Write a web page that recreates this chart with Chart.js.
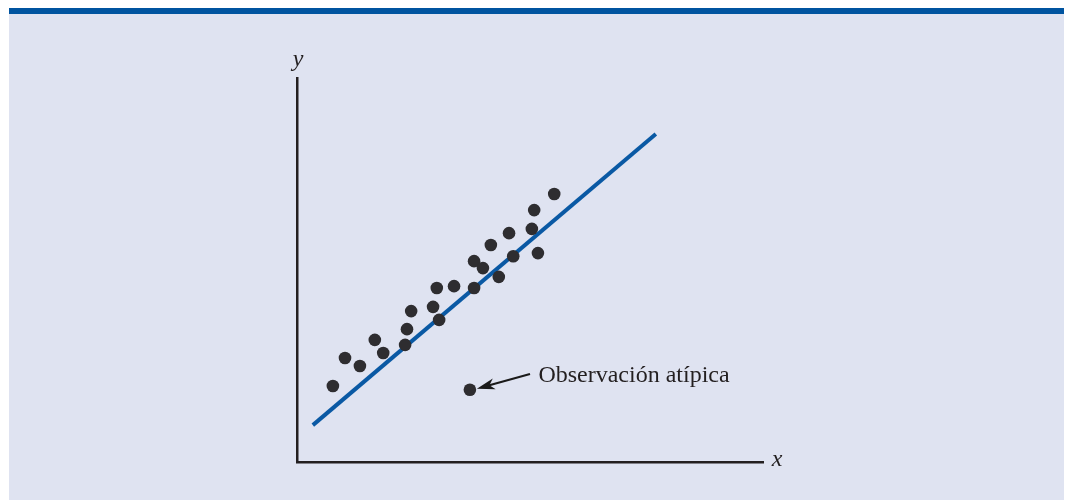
<!DOCTYPE html>
<html>
<head>
<meta charset="utf-8">
<script src="https://cdn.jsdelivr.net/npm/chart.js@4.4.0/dist/chart.umd.min.js"></script>
<style>
  html, body { margin:0; padding:0; background:#fff; }
  #fondo {
    position:absolute; left:9px; top:8px; width:1055px; height:486px;
    background:#dfe3f1; border-top:6px solid #0054a0;
  }
  #chart { position:absolute; left:0; top:0; }
</style>
</head>
<body>
<div id="fondo"></div>
<canvas id="chart" width="1065" height="500"></canvas>
<script>
// Nube de puntos (unidades arbitrarias, ejes 0..100)
const puntosX = [7.7, 10.3, 13.5, 16.7, 18.5, 23.2, 23.6, 24.5, 29.2, 30.0, 30.5, 33.7,
                 38.0, 39.9, 38.0, 41.6, 43.3, 45.5, 46.4, 50.4, 50.9, 51.7, 55.2];
const puntosY = [19.8, 27.1, 25.0, 31.8, 28.4, 30.5, 34.6, 39.3, 40.4, 45.3, 37.0, 45.8,
                 52.3, 50.5, 45.3, 56.5, 48.2, 59.6, 53.6, 60.7, 65.6, 54.4, 69.8];

// Observación atípica
const atipicoX = [37.1];
const atipicoY = [18.8];

// Recta de regresión (extremos)
const rectaX = [3.4, 77.0];
const rectaY = [9.6, 85.4];

// Flecha + etiqueta
const flechaDesde = [50.0, 22.9];
const flechaHasta = [38.6, 19.1];
const etiqueta = 'Observación atípica';
const etiquetaPos = [51.8, 20.9];

const toXY = (xs, ys) => xs.map((x, i) => ({ x, y: ys[i] }));

const anotaciones = {
  id: 'anotaciones',
  afterDraw(chart) {
    const ctx = chart.ctx;
    const sx = chart.scales.x, sy = chart.scales.y;
    const area = chart.chartArea;

    // flecha
    const x1 = sx.getPixelForValue(flechaDesde[0]), y1 = sy.getPixelForValue(flechaDesde[1]);
    const x2 = sx.getPixelForValue(flechaHasta[0]), y2 = sy.getPixelForValue(flechaHasta[1]);
    const c = Math.cos(Math.atan2(y2 - y1, x2 - x1)), s = Math.sin(Math.atan2(y2 - y1, x2 - x1));
    ctx.save();
    ctx.strokeStyle = '#1a1a1a';
    ctx.fillStyle = '#1a1a1a';
    ctx.lineWidth = 2.2;
    ctx.beginPath();
    ctx.moveTo(x1, y1);
    ctx.lineTo(x2 - 12 * c, y2 - 12 * s);
    ctx.stroke();
    ctx.beginPath();
    ctx.moveTo(x2, y2);
    ctx.lineTo(x2 - 18 * c + 5.5 * s, y2 - 18 * s - 5.5 * c);
    ctx.lineTo(x2 - 13 * c, y2 - 13 * s);
    ctx.lineTo(x2 - 18 * c - 5.5 * s, y2 - 18 * s + 5.5 * c);
    ctx.closePath();
    ctx.fill();

    // textos
    ctx.fillStyle = '#231f20';
    ctx.textBaseline = 'alphabetic';
    ctx.textAlign = 'left';
    ctx.font = '24px "Liberation Serif", "Times New Roman", serif';
    ctx.fillText(etiqueta, sx.getPixelForValue(etiquetaPos[0]), sy.getPixelForValue(etiquetaPos[1]));

    ctx.font = 'italic 24px "Liberation Serif", "Times New Roman", serif';
    ctx.textAlign = 'center';
    ctx.fillText('y', area.left + 1, area.top - 12);
    ctx.fillText('x', area.right + 14, area.bottom + 4);
    ctx.restore();
  }
};

const ejeBase = {
  type: 'linear',
  min: 0,
  max: 100,
  grid: { display: false, drawTicks: false, tickLength: 0 },
  ticks: { display: false },
  border: { display: true, color: '#231f20', width: 2.5 }
};

new Chart(document.getElementById('chart'), {
  type: 'scatter',
  data: {
    datasets: [
      {
        data: toXY(rectaX, rectaY),
        showLine: true,
        borderColor: '#0a59a4',
        borderWidth: 4,
        pointRadius: 0,
        order: 2
      },
      {
        data: toXY(puntosX, puntosY).concat(toXY(atipicoX, atipicoY)),
        pointRadius: 6.3,
        pointBackgroundColor: '#2e2d30',
        pointBorderWidth: 0,
        order: 1
      }
    ]
  },
  options: {
    responsive: false,
    animation: false,
    layout: { padding: { left: 297, right: 302, top: 78, bottom: 38 } },
    plugins: { legend: { display: false }, tooltip: { enabled: false } },
    scales: { x: ejeBase, y: ejeBase }
  },
  plugins: [anotaciones]
});
</script>
</body>
</html>
